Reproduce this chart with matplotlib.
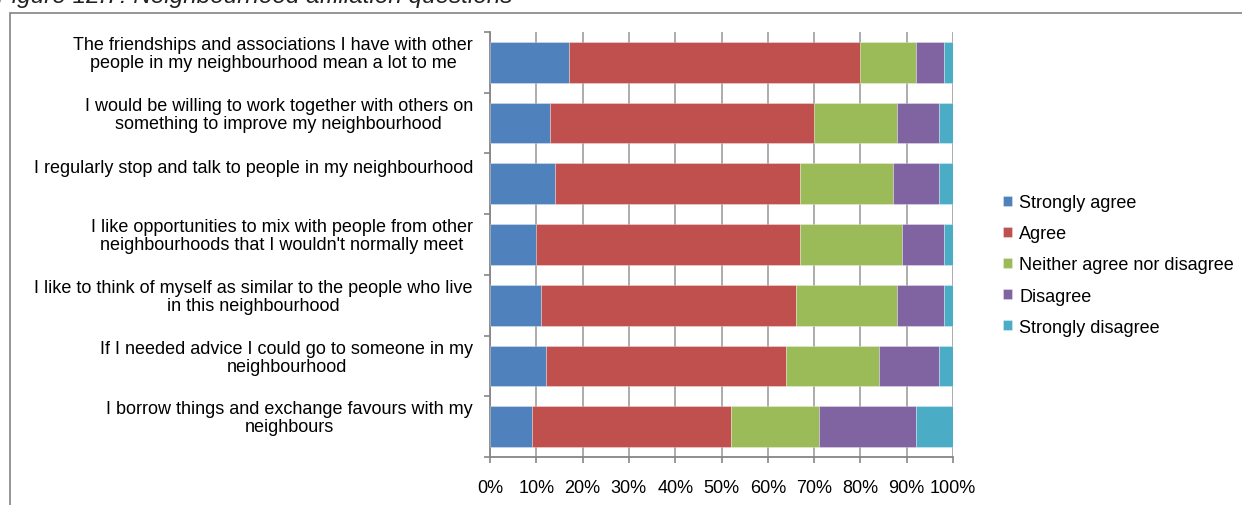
import matplotlib
matplotlib.use("Agg")
import matplotlib.pyplot as plt
import matplotlib.transforms as mtransforms
from matplotlib.patches import Rectangle
import numpy as np

plt.rcParams['font.family'] = ['Liberation Sans', 'DejaVu Sans']

categories = [
    "The friendships and associations I have with other\npeople in my neighbourhood mean a lot to me",
    "I would be willing to work together with others on\nsomething to improve my neighbourhood",
    "I regularly stop and talk to people in my neighbourhood",
    "I like opportunities to mix with people from other\nneighbourhoods that I wouldn't normally meet",
    "I like to think of myself as similar to the people who live\nin this neighbourhood",
    "If I needed advice I could go to someone in my\nneighbourhood",
    "I borrow things and exchange favours with my\nneighbours",
]
series_names = ["Strongly agree", "Agree", "Neither agree nor disagree", "Disagree", "Strongly disagree"]
strongly_agree = [17, 13, 14, 10, 11, 12, 9]
agree = [63, 57, 53, 57, 55, 52, 43]
neither = [12, 18, 20, 22, 22, 20, 19]
disagree = [6, 9, 10, 9, 10, 13, 21]
strongly_disagree = [2, 3, 3, 2, 2, 3, 8]
colors = ["#4F81BD", "#C0504D", "#9BBB59", "#8064A2", "#4BACC6"]
xticks = [0, 10, 20, 30, 40, 50, 60, 70, 80, 90, 100]
title = "Figure 12.7: Neighbourhood affiliation questions"

W, H = 1242, 506
fig = plt.figure(figsize=(W / 100, H / 100), dpi=100)

# outer chart frame (clipped by figure edges)
fig.patches.append(Rectangle((10 / W, -0.1), 1.2, 1 - 13.5 / H + 0.1, transform=fig.transFigure,
                             fill=False, edgecolor="#8C8C8C", linewidth=1.3))
fig.text(-3 / W, 1 - 2.5 / H, title, style='italic', fontsize=17.5, color="#222222",
         ha='left', va='baseline')

ax = fig.add_axes([490 / W, 1 - 458 / H, (953 - 490) / W, (458 - 33) / H])

BAR_H = 0.67
data = [strongly_agree, agree, neither, disagree, strongly_disagree]
y = np.arange(len(categories))
left = np.zeros(len(categories))
for name, vals, c in zip(series_names, data, colors):
    vals = np.array(vals, dtype=float)
    ax.barh(y, vals, left=left, height=BAR_H, color=c, label=name,
            edgecolor=(1, 1, 1, 0.35), linewidth=0.6, zorder=3)
    left += vals

FS = 13
ax.set_xlim(0, 100)
ax.set_ylim(len(categories) - 0.5, -0.5)
ax.set_xticks(xticks)
ax.set_xticklabels([f"{t}%" for t in xticks], fontsize=FS)
ax.set_yticks(y)
ax.set_yticklabels([])
ax.set_yticks(np.arange(len(categories) + 1) - 0.5, minor=True)
ax.tick_params(axis='y', which='major', length=0)
ax.tick_params(axis='y', which='minor', length=4, color="#868686", width=1.2, direction='out')
ax.tick_params(axis='x', which='major', length=4, color="#868686", width=1.2, pad=12)
ax.grid(axis='x', color="#A6A6A6", linewidth=1.3, zorder=0)
ax.set_axisbelow(True)
for s in ['top', 'right']:
    ax.spines[s].set_visible(False)
ax.spines['left'].set_color("#868686")
ax.spines['left'].set_linewidth(1.3)
ax.spines['bottom'].set_color("#868686")
ax.spines['bottom'].set_linewidth(1.3)

# category labels: first line sits at the bar's top edge (va='baseline' uses the last line)
LINE_PX = 18.5
for i, cat in enumerate(categories):
    n = cat.count("\n") + 1
    dy = 9 if n == 1 else 6.5 + (n - 1) * LINE_PX
    trans = ax.get_yaxis_transform() + mtransforms.ScaledTranslation(-17 / 100, -dy / 100, fig.dpi_scale_trans)
    ax.text(0, i - BAR_H / 2, cat, transform=trans, ha='right', va='baseline',
            multialignment='center', fontsize=FS, linespacing=1.08)

handles, labels = ax.get_legend_handles_labels()
leg = fig.legend(handles, labels, loc='center left', bbox_to_anchor=(994 / W, 1 - 266 / H),
                 frameon=False, fontsize=FS, handlelength=0.5, handleheight=0.5,
                 handletextpad=0.4, labelspacing=0.78, borderpad=0)

fig.savefig("out.png", dpi=100)
